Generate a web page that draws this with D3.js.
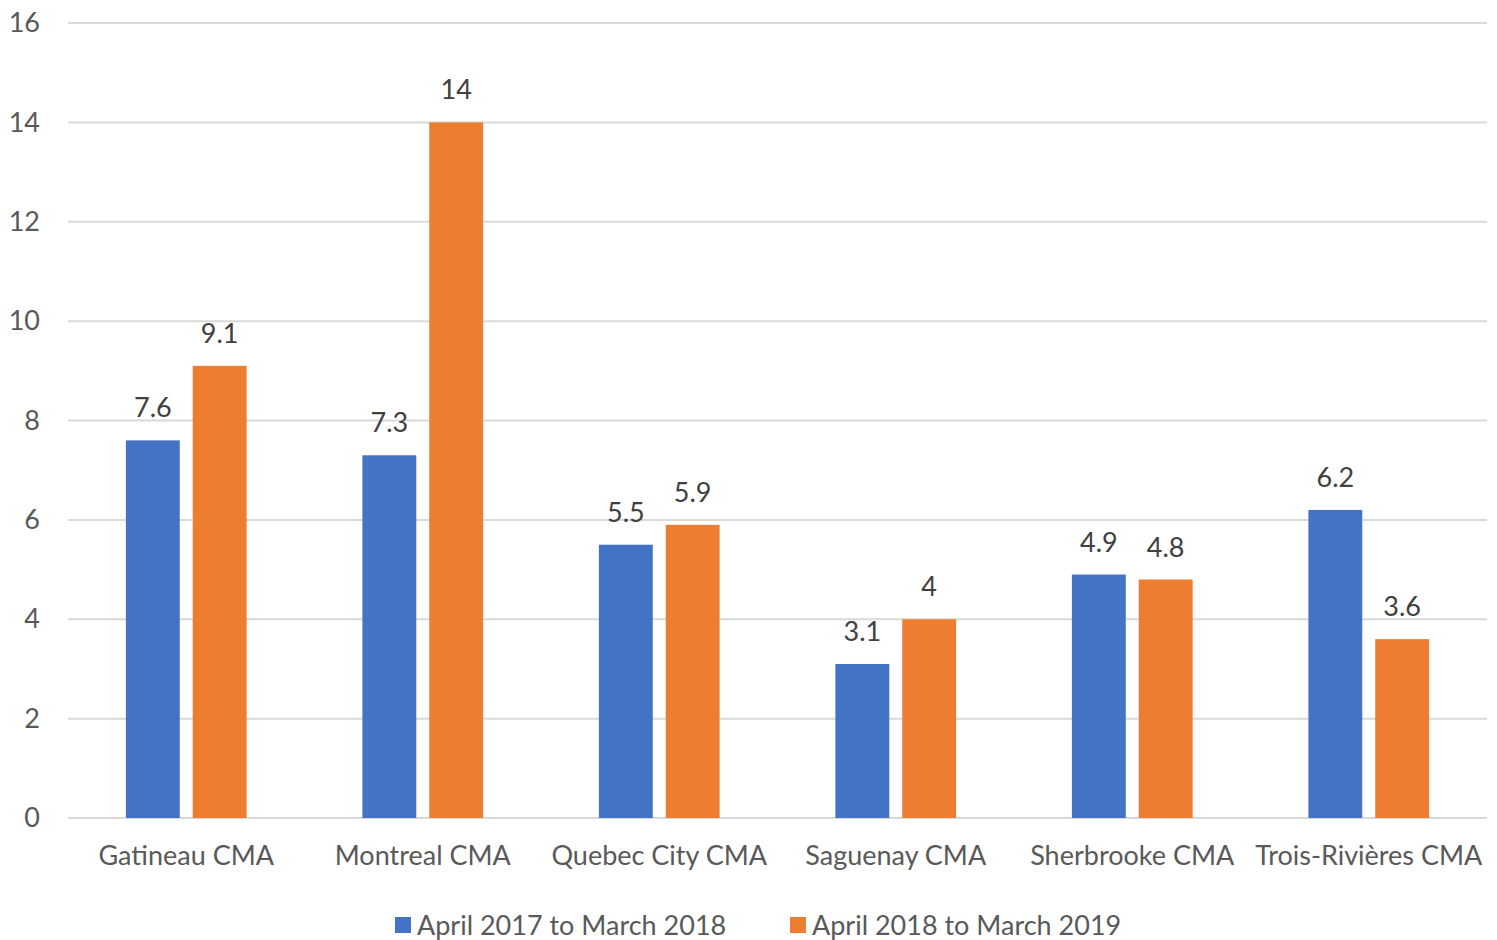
<!DOCTYPE html>
<html><head><meta charset="utf-8">
<script src="https://cdn.jsdelivr.net/npm/d3@7"></script>
<style>body{margin:0;background:#fff}svg{display:block}text{font-family:Lato,"Open Sans",sans-serif}</style>
</head><body>
<svg id="c" width="1497" height="940"></svg>
<script>
const categories = ["Gatineau CMA","Montreal CMA","Quebec City CMA","Saguenay CMA","Sherbrooke CMA","Trois-Rivières CMA"];
const seriesNames = ["April 2017 to March 2018","April 2018 to March 2019"];
const series2017 = [7.6,7.3,5.5,3.1,4.9,6.2];
const series2018 = [9.1,14,5.9,4,4.8,3.6];
const yTicks = [0,2,4,6,8,10,12,14,16];
const colors = ["#4472C4","#ED7D31"];
const FS = 27;

const svg = d3.select("#c");
const L=68,R=1487,T=23,B=818;
const x0 = d3.scaleBand().domain(categories).range([L,R]);
const x1 = d3.scaleBand().domain(seriesNames).range([0,x0.bandwidth()]).paddingInner(0.194).paddingOuter(0.866);
const y = d3.scaleLinear().domain([0,16]).range([B,T]);

const grid = svg.append("g");
grid.selectAll("line").data(yTicks).join("line")
  .attr("x1",L).attr("x2",R).attr("y1",d=>y(d)).attr("y2",d=>y(d))
  .attr("stroke","#d9d9d9").attr("stroke-width",2);

const yAxis = svg.append("g").attr("transform",`translate(${L},0)`)
  .call(d3.axisLeft(y).tickValues(yTicks).tickSize(0).tickPadding(28));
yAxis.select(".domain").remove();
yAxis.selectAll("text").attr("font-size",FS).attr("fill","#595959").style("font-family","Lato,sans-serif");

const data = categories.map((c,i)=>({c, vals:[series2017[i],series2018[i]]}));
const g = svg.append("g");
const groups = g.selectAll("g").data(data).join("g").attr("transform",d=>`translate(${x0(d.c)},0)`);
groups.selectAll("rect").data(d=>d.vals.map((v,j)=>({v,s:seriesNames[j],j}))).join("rect")
  .attr("x",d=>x1(d.s)).attr("width",x1.bandwidth())
  .attr("y",d=>y(d.v)).attr("height",d=>B-y(d.v)).attr("fill",d=>colors[d.j]);
groups.selectAll("text").data(d=>d.vals.map((v,j)=>({v,s:seriesNames[j],j}))).join("text")
  .attr("x",d=>x1(d.s)+x1.bandwidth()/2).attr("y",d=>y(d.v)-23)
  .attr("text-anchor","middle").attr("font-size",FS).attr("fill","#404040").text(d=>d.v);

const xAxis = svg.append("g").attr("transform",`translate(0,${B})`)
  .call(d3.axisBottom(x0).tickSize(0).tickPadding(28));
xAxis.select(".domain").remove();
xAxis.selectAll("text").attr("font-size",FS).attr("fill","#595959").style("font-family","Lato,sans-serif");

const leg = svg.append("g");
const legX = [395,790];
seriesNames.forEach((s,i)=>{
  leg.append("rect").attr("x",legX[i]).attr("y",917).attr("width",16).attr("height",16).attr("fill",colors[i]);
  leg.append("text").attr("x",legX[i]+22).attr("y",935).attr("font-size",FS).attr("fill","#595959").text(s);
});
</script>
</body></html>
